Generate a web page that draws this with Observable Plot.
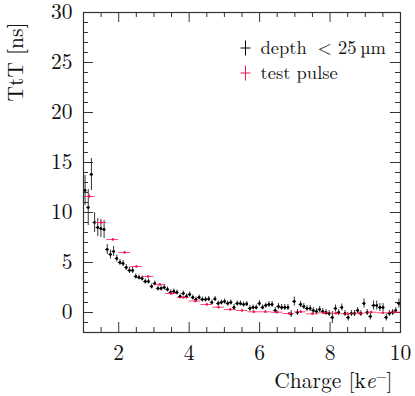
<!DOCTYPE html>
<html><head><meta charset="utf-8">
<script src="https://cdn.jsdelivr.net/npm/d3@7"></script>
<script src="https://cdn.jsdelivr.net/npm/@observablehq/plot@0.6"></script>
<style>
html,body{margin:0;padding:0;background:#fff}
#chart{width:415px;height:396px}
</style>
</head><body><div id="chart"></div>
<script>
// ---- data: "depth < 25 um" (black), bins of width 0.09 keV ----
const depthX = [
1.045,1.135,1.225,1.315,1.405,1.495,1.585,1.675,1.765,1.855,
1.945,2.035,2.125,2.215,2.305,2.395,2.485,2.575,2.665,2.755,
2.845,2.935,3.025,3.115,3.205,3.295,3.385,3.475,3.565,3.655,
3.745,3.835,3.925,4.015,4.105,4.195,4.285,4.375,4.465,4.555,
4.645,4.735,4.825,4.915,5.005,5.095,5.185,5.275,5.365,5.455,
5.545,5.635,5.725,5.815,5.905,5.995,6.085,6.175,6.265,6.355,
6.445,6.535,6.625,6.715,6.805,6.895,6.985,7.075,7.165,7.255,
7.345,7.435,7.525,7.615,7.705,7.795,7.885,7.975,8.065,8.155,
8.245,8.335,8.425,8.515,8.605,8.695,8.785,8.875,8.965,9.055,
9.145,9.235,9.325,9.415,9.505,9.595,9.685,9.775,9.865,9.955];
const depthY = [
12.2,10.5,13.8,9.0,8.5,8.4,8.3,6.3,5.8,6.1,
5.4,5.0,4.9,4.5,4.2,4.2,3.6,3.5,3.4,3.1,
3.1,2.6,2.9,2.4,2.4,2.5,2.3,2.0,2.1,2.0,
1.6,1.9,1.6,1.8,1.5,1.3,1.5,1.3,1.3,1.35,
1.0,1.35,0.9,1.0,1.1,0.9,1.0,0.5,0.9,0.9,
0.8,0.85,0.4,0.5,0.5,0.9,0.5,0.7,0.8,0.8,
0.2,0.6,0.5,0.5,0.5,-0.15,1.1,0.0,0.8,0.6,
0.4,0.4,0.2,0.1,0.3,0.1,0.0,-0.1,-0.5,0.4,
0.0,0.5,-0.1,-0.5,-0.1,-0.1,0.2,-0.1,0.9,0.0,
-0.4,0.7,0.7,0.5,0.5,-0.5,-0.1,0.0,0.2,0.9];
const depthErr = [
1.5,1.8,1.6,1.0,0.9,0.9,0.9,0.5,0.45,0.5,
0.35,0.3,0.3,0.3,0.3,0.3,0.25,0.25,0.25,0.25,
0.25,0.25,0.25,0.25,0.25,0.25,0.25,0.25,0.25,0.25,
0.25,0.25,0.25,0.25,0.25,0.25,0.25,0.25,0.25,0.25,
0.25,0.25,0.25,0.25,0.25,0.25,0.25,0.3,0.25,0.25,
0.25,0.25,0.3,0.25,0.25,0.3,0.25,0.25,0.3,0.3,
0.3,0.3,0.3,0.3,0.3,0.35,0.45,0.3,0.3,0.3,
0.3,0.3,0.3,0.3,0.3,0.3,0.3,0.3,0.6,0.35,
0.3,0.35,0.3,0.35,0.3,0.3,0.3,0.3,0.45,0.3,
0.35,0.45,0.45,0.4,0.4,0.35,0.3,0.3,0.3,0.45];
const depthHalfBin = 0.045;

// ---- data: "test pulse" (red), bins of width 1/3 keV ----
const pulseX = [
1.167,1.5,1.833,2.167,2.5,2.833,3.167,3.5,3.833,
4.167,4.5,4.833,5.167,5.5,5.833,6.167,6.5,6.833,
7.167,7.5,7.833,8.167,8.5,8.833,9.167,9.5,9.833];
const pulseY = [
11.6,9.0,7.3,6.0,4.6,3.6,2.8,1.9,1.5,
1.15,0.8,0.53,0.3,0.2,0.07,0.07,0.03,-0.1,
0.07,-0.13,-0.03,-0.07,-0.13,-0.07,0.03,-0.03,0.03];
const pulseErr = [
0.15,0.12,0.1,0.1,0.1,0.1,0.1,0.1,0.1,
0.1,0.1,0.1,0.1,0.1,0.1,0.1,0.1,0.1,
0.1,0.1,0.1,0.1,0.1,0.1,0.1,0.1,0.1];
const pulseHalfBin = 1/6;

// ---- axes ----
const xDomain = [1, 10];
const yDomain = [-2, 30];
const xTickLabels = [2, 4, 6, 8, 10];
const yTickLabels = [0, 5, 10, 15, 20, 25, 30];
const xMajorTicks = [2, 4, 6, 8];
const xMinorTicks = [1.5,2.5,3,3.5,4.5,5,5.5,6.5,7,7.5,8.5,9,9.5];
const yMajorTicks = [0, 5, 10, 15, 20, 25];
const yMinorTicks = [-1,1,2,3,4,6,7,8,9,11,12,13,14,16,17,18,19,21,22,23,24,26,27,28,29];
const xTitle = "Charge [ke⁻]";
const yTitle = "TtT [ns]";
const legendNames = ["depth", "< 25\u2009µm", "test pulse"];

const black = "#000";
const red = "#f5164d";
const axisColor = "#333";
const font = "'Latin Modern Roman', 'Liberation Serif', serif";

const W = 415, H = 396;
const mL = 83, mR = 15, mT = 12, mB = 64;
const pw = W - mL - mR, ph = H - mT - mB;

const depth = depthX.map((x, i) => ({x, y: depthY[i], e: depthErr[i]}));
const pulse = pulseX.map((x, i) => ({x, y: pulseY[i], e: pulseErr[i]}));

const plusSym = {draw(ctx) { ctx.moveTo(-5, 0); ctx.lineTo(5, 0); ctx.moveTo(0, -7.5); ctx.lineTo(0, 7.5); }};

const majorLen = 10, minorLen = 5;
const txt = {fill: "#111"};
const axisFont = 21.5, legendFont = 18.5;

const svg = Plot.plot({
  width: W, height: H,
  marginLeft: mL, marginRight: mR, marginTop: mT, marginBottom: mB,
  style: `font-family: ${font}; background: #fff; overflow: visible;`,
  x: {domain: xDomain, axis: null},
  y: {domain: yDomain, axis: null},
  marks: [
    // ticks (inward, mirrored)
    Plot.ruleY(yMajorTicks, {y: d => d, insetRight: pw - majorLen, stroke: axisColor}),
    Plot.ruleY(yMajorTicks, {y: d => d, insetLeft: pw - majorLen, stroke: axisColor}),
    Plot.ruleY(yMinorTicks, {y: d => d, insetRight: pw - minorLen, stroke: axisColor}),
    Plot.ruleY(yMinorTicks, {y: d => d, insetLeft: pw - minorLen, stroke: axisColor}),
    Plot.ruleX(xMajorTicks, {x: d => d, insetTop: ph - majorLen, stroke: axisColor}),
    Plot.ruleX(xMajorTicks, {x: d => d, insetBottom: ph - majorLen, stroke: axisColor}),
    Plot.ruleX(xMinorTicks, {x: d => d, insetTop: ph - minorLen, stroke: axisColor}),
    Plot.ruleX(xMinorTicks, {x: d => d, insetBottom: ph - minorLen, stroke: axisColor}),
    // black series
    Plot.ruleX(depth, {x: "x", y1: d => d.y - d.e, y2: d => d.y + d.e, stroke: "#333", strokeWidth: 1}),
    Plot.ruleY(depth, {y: "y", x1: d => d.x - depthHalfBin, x2: d => d.x + depthHalfBin, stroke: "#222", strokeWidth: 1}),
    Plot.dot(depth, {x: "x", y: "y", r: 1.4, fill: black, stroke: null}),
    // red series
    Plot.ruleY(pulse, {y: "y", x1: d => d.x - pulseHalfBin, x2: d => d.x + pulseHalfBin, stroke: red, strokeWidth: 1, strokeOpacity: 0.75}),
    Plot.ruleX(pulse, {x: "x", y1: d => d.y - d.e, y2: d => d.y + d.e, stroke: red, strokeWidth: 1}),
    Plot.dot(pulse, {x: "x", y: "y", r: 1.3, fill: red, stroke: null}),
    // frame
    Plot.frame({stroke: axisColor, strokeWidth: 1.2}),
    // tick labels
    Plot.text(xTickLabels, {...txt, x: d => d, text: d => String(d), frameAnchor: "bottom", lineAnchor: "top", dy: 12, fontSize: axisFont}),
    Plot.text(yTickLabels, {...txt, y: d => d, text: d => String(d), frameAnchor: "left", textAnchor: "end", lineAnchor: "middle", dx: -11, fontSize: axisFont}),
    // axis titles
    Plot.text([xTitle], {...txt, text: d => d, frameAnchor: "bottom-right", textAnchor: "end", lineAnchor: "middle", dx: -8, dy: 49, fontSize: axisFont}),
    Plot.text([yTitle], {...txt, text: d => d, frameAnchor: "top-left", textAnchor: "end", lineAnchor: "middle", rotate: -90, dx: -67.7, dy: 10, fontSize: axisFont}),
    // legend
    Plot.dot([legendNames[0]], {frameAnchor: "top-left", dx: 162, dy: 35.5, symbol: plusSym, stroke: black, strokeWidth: 1}),
    Plot.dot([legendNames[2]], {frameAnchor: "top-left", dx: 162, dy: 60.5, symbol: plusSym, stroke: red, strokeWidth: 1}),
    Plot.text([legendNames[0]], {...txt, text: d => d, frameAnchor: "top-left", textAnchor: "start", lineAnchor: "middle", dx: 177, dy: 35.5, fontSize: legendFont}),
    Plot.text([legendNames[1]], {...txt, text: d => d, frameAnchor: "top-left", textAnchor: "start", lineAnchor: "middle", dx: 234, dy: 35.5, fontSize: legendFont}),
    Plot.text([legendNames[2]], {...txt, text: d => d, frameAnchor: "top-left", textAnchor: "start", lineAnchor: "middle", dx: 177, dy: 60.5, fontSize: legendFont})
  ]
});

const root = d3.select(svg);
root.attr("font-family", font);
root.selectAll("g").filter(function() { return this.getAttribute("font-family"); }).attr("font-family", font);
root.selectAll("text").style("font-family", font);

// italic e and superscript minus in the x title
root.selectAll("text").filter(function() { return this.textContent === xTitle; }).each(function() {
  const t = d3.select(this);
  t.text(null);
  t.append("tspan").text("Charge [k");
  t.append("tspan").attr("font-style", "italic").text("e");
  t.append("tspan").attr("font-size", "0.65em").attr("dy", "-0.55em").text("−");
  t.append("tspan").attr("dy", "0.36em").text("]");
});

document.getElementById("chart").appendChild(svg);
</script>
</body></html>
